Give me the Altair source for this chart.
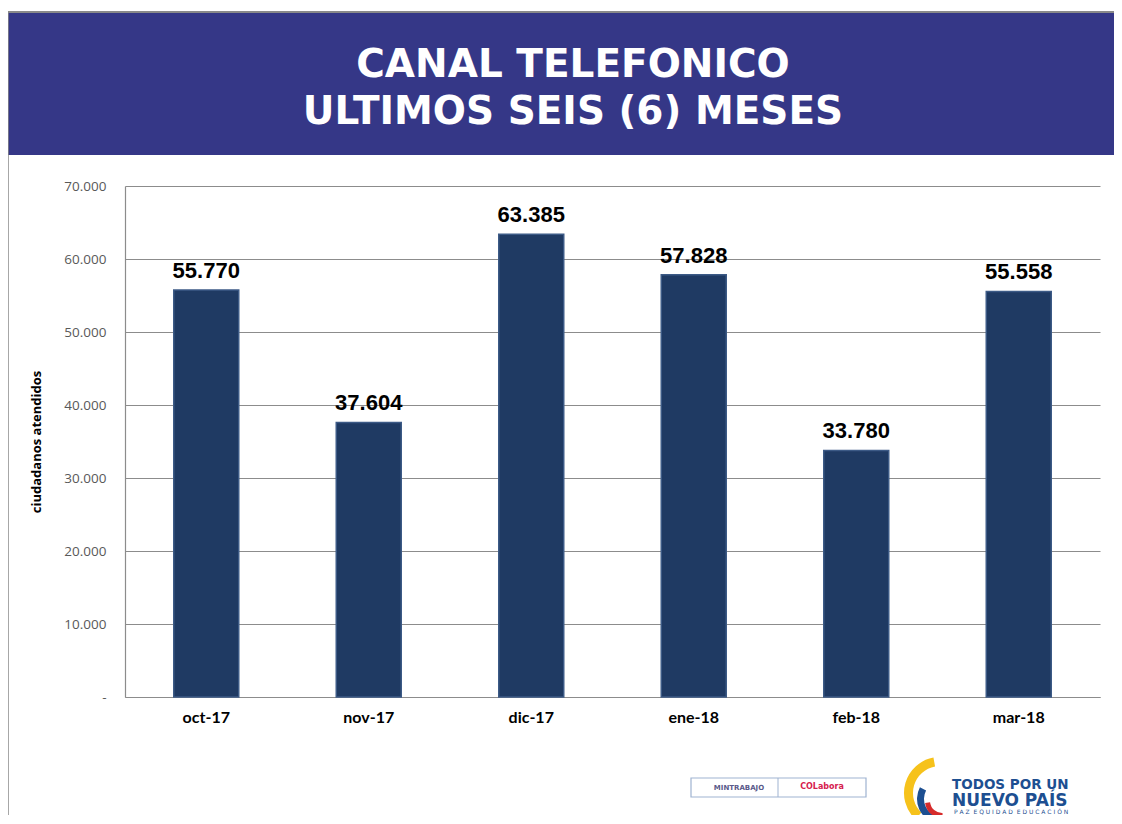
import altair as alt
import pandas as pd

# ---- data ----
months = ["oct-17", "nov-17", "dic-17", "ene-18", "feb-18", "mar-18"]
values = [55770, 37604, 63385, 57828, 33780, 55558]
labels = ["55.770", "37.604", "63.385", "57.828", "33.780", "55.558"]
title_lines = ["CANAL TELEFONICO", "ULTIMOS SEIS (6) MESES"]
y_title = "ciudadanos atendidos"

df = pd.DataFrame({"mes": months, "valor": values, "etiqueta": labels})
one = pd.DataFrame({"k": [0]})

W, H = 975, 511
PL, PT = 117, 178

x_enc = alt.X("mes:N", sort=months,
              scale=alt.Scale(paddingInner=0.6, paddingOuter=0.3),
              axis=alt.Axis(title=None, labelAngle=0, labelFont="Lato",
                            labelFontWeight="bold", labelFontSize=16,
                            labelColor="#000000", labelPadding=12,
                            domainColor="#8c8c8c", domainWidth=1.2,
                            ticks=False, grid=False))
y_enc = alt.Y("valor:Q",
              scale=alt.Scale(domain=[0, 70000], nice=False),
              axis=alt.Axis(values=[0, 10000, 20000, 30000, 40000, 50000, 60000, 70000],
                            labelExpr="datum.value == 0 ? '-' : format(datum.value/1000, 'd') + '.000'",
                            labelFont="Open Sans", labelFontSize=13.5,
                            labelColor="#595959", labelPadding=19,
                            ticks=False, domainColor="#8c8c8c", domainWidth=1.2,
                            gridColor="#8c8c8c", gridWidth=1.2,
                            title=y_title, titleFont="Open Sans", titleFontSize=13,
                            titleFontWeight="bold", titleColor="#000000",
                            titleX=-82, titleY=H / 2, titleAngle=270))

bars = alt.Chart(df).mark_bar(
    color="#1f3a63", stroke="#3c5a86", strokeWidth=1.5
).encode(x=x_enc, y=y_enc)

texts = alt.Chart(df).mark_text(
    font="Liberation Sans", fontWeight="bold", fontSize=22,
    color="#000000", dy=-12, baseline="alphabetic"
).encode(x=alt.X("mes:N", sort=months), y=alt.Y("valor:Q"), text="etiqueta:N")

# ---- decorative slide elements ----
band = alt.Chart(one).mark_rect(color="#353787").encode(
    x=alt.value(-117), x2=alt.value(1000), y=alt.value(-173), y2=alt.value(-31))
border_top = alt.Chart(one).mark_rule(color="#8a8a8a", strokeWidth=2).encode(
    x=alt.value(-117), x2=alt.value(1000), y=alt.value(-174))
border_left = alt.Chart(one).mark_rule(color="#8a8a8a", strokeWidth=1.5).encode(
    x=alt.value(-117), y=alt.value(-174), y2=alt.value(640))

t1 = alt.Chart(one).mark_text(font="DejaVu Sans", fontWeight="bold", fontSize=39,
                              color="white", baseline="alphabetic").encode(
    x=alt.value(448), y=alt.value(-109), text=alt.value(title_lines[0]))
t2 = alt.Chart(one).mark_text(font="DejaVu Sans", fontWeight="bold", fontSize=39,
                              color="white", baseline="alphabetic").encode(
    x=alt.value(448), y=alt.value(-62), text=alt.value(title_lines[1]))

# logos (approximation)
box = alt.Chart(one).mark_rect(fill="white", stroke="#9fb3d1", strokeWidth=1.2).encode(
    x=alt.value(566), x2=alt.value(741), y=alt.value(592), y2=alt.value(611))
box_div = alt.Chart(one).mark_rule(color="#9fb3d1").encode(
    x=alt.value(653), y=alt.value(592), y2=alt.value(611))
mint = alt.Chart(one).mark_text(font="DejaVu Sans", fontWeight="bold", fontSize=7,
                                color="#5a5a8a").encode(
    x=alt.value(614), y=alt.value(602), text=alt.value("MINTRABAJO"))
cola = alt.Chart(one).mark_text(font="DejaVu Sans", fontWeight="bold", fontSize=8,
                                color="#d6204e").encode(
    x=alt.value(697), y=alt.value(601), text=alt.value("COLabora"))
arc_y = alt.Chart(one).mark_arc(color="#f6c21b").encode(
    x=alt.value(815), y=alt.value(607), radius=alt.value(36), radius2=alt.value(27),
    theta=alt.value(3.9), theta2=alt.value(6.1))
arc_b = alt.Chart(one).mark_arc(color="#1d4f91").encode(
    x=alt.value(817), y=alt.value(613), radius=alt.value(25), radius2=alt.value(18),
    theta=alt.value(3.4), theta2=alt.value(5.2))
arc_r = alt.Chart(one).mark_arc(color="#d62b2b").encode(
    x=alt.value(817), y=alt.value(615), radius=alt.value(17), radius2=alt.value(12),
    theta=alt.value(3.1), theta2=alt.value(4.6))
todos = alt.Chart(one).mark_text(font="DejaVu Sans", fontWeight="bold", fontSize=13.5,
                                 color="#1d4f91", align="left", baseline="alphabetic").encode(
    x=alt.value(827), y=alt.value(603), text=alt.value("TODOS POR UN"))
nuevo = alt.Chart(one).mark_text(font="DejaVu Sans", fontWeight="bold", fontSize=17,
                                 color="#1d4f91", align="left", baseline="alphabetic").encode(
    x=alt.value(827), y=alt.value(620), text=alt.value("NUEVO PAÍS"))
paz_txt = "\u00a0\u00a0".join(["\u00a0".join(w) for w in ["PAZ", "EQUIDAD", "EDUCACIÓN"]])
paz = alt.Chart(one).mark_text(font="DejaVu Sans", fontSize=6, color="#1d4f91",
                               align="left", baseline="alphabetic").encode(
    x=alt.value(829), y=alt.value(628), text=alt.value(paz_txt))

chart = alt.layer(
    band, border_top, border_left, t1, t2, bars, texts,
    box, box_div, mint, cola, arc_y, arc_b, arc_r, todos, nuevo, paz
).properties(
    width=W, height=H,
    autosize=alt.AutoSizeParams(type="none"),
    padding={"left": PL, "top": PT, "right": 14, "bottom": 118},
    background="white"
).configure_view(stroke=None)

chart.save("out.html", embed_options={"renderer": "svg", "actions": False})
